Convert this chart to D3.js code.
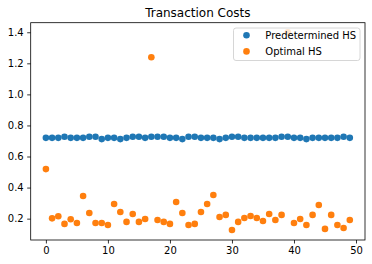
<!DOCTYPE html>
<html>
<head>
<meta charset="utf-8">
<script src="https://cdn.jsdelivr.net/npm/d3@7"></script>
<style>
  body { margin: 0; background: #fff; }
  svg { display: block; font-family: "DejaVu Sans", sans-serif; }
</style>
</head>
<body>
<svg id="chart" width="372" height="264"></svg>
<script>
var runs = d3.range(50);
var predetermined = [
  0.72, 0.72, 0.72, 0.727, 0.72, 0.72, 0.72, 0.727, 0.727, 0.712,
  0.72, 0.72, 0.712, 0.72, 0.727, 0.727, 0.72, 0.727, 0.727, 0.727,
  0.72, 0.72, 0.712, 0.727, 0.727, 0.72, 0.72, 0.72, 0.712, 0.72,
  0.727, 0.727, 0.72, 0.72, 0.72, 0.72, 0.72, 0.72, 0.727, 0.727,
  0.72, 0.72, 0.712, 0.72, 0.72, 0.72, 0.72, 0.72, 0.727, 0.72
];
var optimal = [
  0.519, 0.202, 0.215, 0.166, 0.196, 0.172, 0.346, 0.236, 0.172, 0.172,
  0.159, 0.294, 0.243, 0.179, 0.230, 0.179, 0.198, 1.239, 0.191, 0.179,
  0.166, 0.307, 0.236, 0.159, 0.166, 0.243, 0.294, 0.352, 0.211, 0.224,
  0.127, 0.179, 0.204, 0.217, 0.204, 0.185, 0.230, 0.191, 0.224, 1.40,
  0.172, 0.198, 0.159, 0.224, 0.288, 0.134, 0.224, 0.159, 0.140, 0.191
];
var seriesNames = ['Predetermined HS', 'Optimal HS'];
var seriesColors = ['#1f77b4', '#ff7f0e'];
var xTicks = [0, 10, 20, 30, 40, 50];
var yTicks = [0.2, 0.4, 0.6, 0.8, 1.0, 1.2, 1.4];

(function () {
  'use strict';
  var svg = d3.select('#chart');
  var left = 30.7, right = 365, top = 22.7, bottom = 240;

  var x = d3.scaleLinear().domain([-2.45, 51.45]).range([left, right]);
  var y = d3.scaleLinear().domain([0.0625, 1.4615]).range([bottom, top]);

  // x axis
  var xAxis = svg.append('g')
    .attr('transform', 'translate(0,' + bottom + ')')
    .call(d3.axisBottom(x).tickValues(xTicks).tickSize(3.5).tickPadding(3.5)
      .tickFormat(d3.format('d')));
  // y axis
  var yAxis = svg.append('g')
    .attr('transform', 'translate(' + left + ',0)')
    .call(d3.axisLeft(y).tickValues(yTicks).tickSize(3.5).tickPadding(3.5)
      .tickFormat(d3.format('.1f')));
  [xAxis, yAxis].forEach(function (a) {
    a.select('.domain').remove();
    a.selectAll('line').attr('stroke', '#000').attr('stroke-width', 0.8);
    a.selectAll('text').attr('fill', '#000').style('font-size', '10px')
      .style('font-family', '"DejaVu Sans", sans-serif');
  });

  var series = [predetermined, optimal];
  series.forEach(function (vals, si) {
    svg.append('g').selectAll('circle')
      .data(runs)
      .join('circle')
      .attr('cx', function (d) { return x(d); })
      .attr('cy', function (d) { return y(vals[d]); })
      .attr('r', 3.3)
      .attr('fill', seriesColors[si]);
  });

  // spines
  svg.append('rect')
    .attr('x', left).attr('y', top)
    .attr('width', right - left).attr('height', bottom - top)
    .attr('fill', 'none').attr('stroke', '#000').attr('stroke-width', 0.8);

  // title
  svg.append('text')
    .attr('x', (left + right) / 2).attr('y', 17)
    .attr('text-anchor', 'middle')
    .style('font-size', '12px')
    .text('Transaction Costs');

  // legend
  var lg = svg.append('g');
  lg.append('rect')
    .attr('x', 233.5).attr('y', 28)
    .attr('width', 126.5).attr('height', 32.5)
    .attr('rx', 2.5)
    .attr('fill', '#fff').attr('fill-opacity', 0.8)
    .attr('stroke', '#cccccc').attr('stroke-width', 0.8);
  seriesNames.forEach(function (name, i) {
    var cy = 35.2 + i * 16.2;
    lg.append('circle').attr('cx', 246.5).attr('cy', cy).attr('r', 3.3)
      .attr('fill', seriesColors[i]);
    lg.append('text').attr('x', 265.3).attr('y', cy + 3.6)
      .style('font-size', '10px').text(name);
  });
})();
</script>
</body>
</html>
